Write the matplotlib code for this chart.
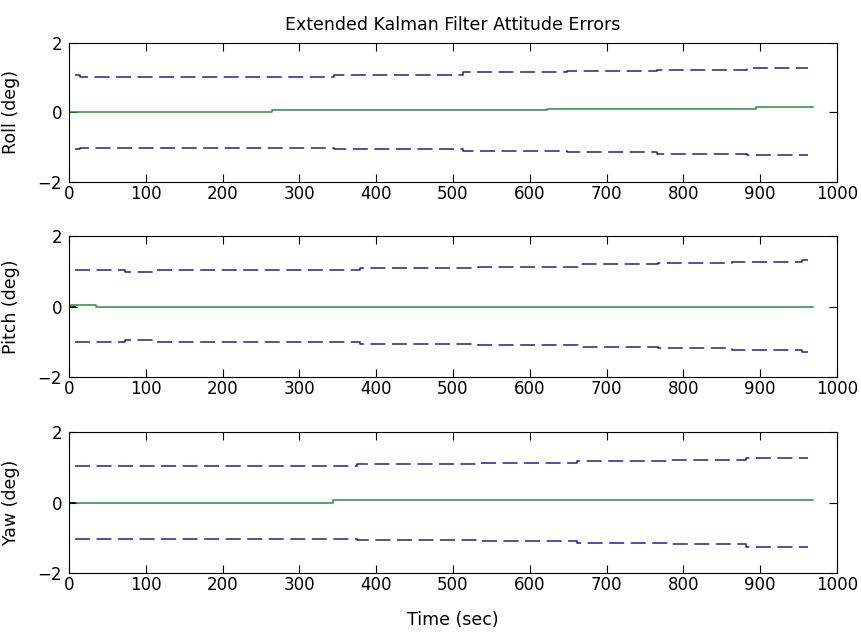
import matplotlib.pyplot as plt

# Attitude error and +/- 1 sigma bounds, piecewise constant between breakpoints
roll_err_t = [0, 265, 623, 895, 969]
roll_err = [0.0, 0.07, 0.09, 0.15, 0.15]
roll_sig_t = [8, 14, 345, 513, 648, 766, 883, 962]
roll_up = [1.07, 1.03, 1.08, 1.15, 1.18, 1.22, 1.27, 1.27]
roll_lo = [-1.04, -1.01, -1.05, -1.10, -1.15, -1.20, -1.23, -1.23]

pitch_err_t = [0, 35, 969]
pitch_err = [0.05, 0.0, 0.0]
pitch_sig_t = [8, 73, 114, 379, 533, 663, 767, 863, 954, 962]
pitch_up = [1.04, 0.99, 1.04, 1.09, 1.13, 1.20, 1.23, 1.26, 1.32, 1.32]
pitch_lo = [-1.01, -0.94, -1.01, -1.05, -1.09, -1.15, -1.18, -1.23, -1.29, -1.29]

yaw_err_t = [0, 344, 969]
yaw_err = [0.0, 0.08, 0.08]
yaw_sig_t = [8, 375, 533, 661, 783, 882, 962]
yaw_up = [1.05, 1.10, 1.13, 1.17, 1.22, 1.26, 1.26]
yaw_lo = [-1.03, -1.07, -1.10, -1.15, -1.19, -1.25, -1.25]

# short initial segment of the reference trace
init_t = [0, 8]
init_val = [-0.02, -0.02]

panels = [
    ('Roll (deg)', roll_err_t, roll_err, roll_sig_t, roll_up, roll_lo, False),
    ('Pitch (deg)', pitch_err_t, pitch_err, pitch_sig_t, pitch_up, pitch_lo, True),
    ('Yaw (deg)', yaw_err_t, yaw_err, yaw_sig_t, yaw_up, yaw_lo, True),
]

plt.rcParams['font.family'] = 'DejaVu Sans'
plt.rcParams['lines.scale_dashes'] = False

fig = plt.figure(figsize=(8.62, 6.35), dpi=100)
boxes = [
    [0.080, 0.7134, 0.891, 0.219],
    [0.080, 0.4063, 0.891, 0.222],
    [0.080, 0.0976, 0.891, 0.222],
]

blue = '#1f1f9c'
green = '#2a8c3c'

for box, (label, et, ev, st, up, lo, has_init) in zip(boxes, panels):
    ax = fig.add_axes(box)
    ax.plot(st, up, color=blue, lw=1.1, dashes=(10.8, 4.7), drawstyle='steps-post')
    ax.plot(st, lo, color=blue, lw=1.1, dashes=(10.8, 4.7), drawstyle='steps-post')
    ax.plot(et, ev, color=green, lw=1.1, drawstyle='steps-post')
    if has_init:
        ax.plot(init_t, init_val, color='black', lw=1.2)
    ax.set_xlim(0, 1000)
    ax.set_ylim(-2, 2)
    ax.set_xticks(range(0, 1001, 100))
    ax.set_yticks([-2, 0, 2])
    ax.tick_params(direction='in', length=6, width=0.8, top=True, right=True,
                   labelsize=12)
    ax.tick_params(axis='x', pad=2.5)
    ax.tick_params(axis='y', pad=5)
    for sp in ax.spines.values():
        sp.set_linewidth(0.8)
    ax.set_ylabel(label, fontsize=12.5)
    ax.yaxis.set_label_coords(-0.064, 0.5)
    if label == 'Roll (deg)':
        ax.set_title('Extended Kalman Filter Attitude Errors', fontsize=12.5, pad=9)
    if label == 'Yaw (deg)':
        ax.set_xlabel('Time (sec)', fontsize=12.5)
        ax.xaxis.set_label_coords(0.5, -0.333)
        ax.xaxis.label.set_va('center')

fig.savefig('out.png', dpi=100)
